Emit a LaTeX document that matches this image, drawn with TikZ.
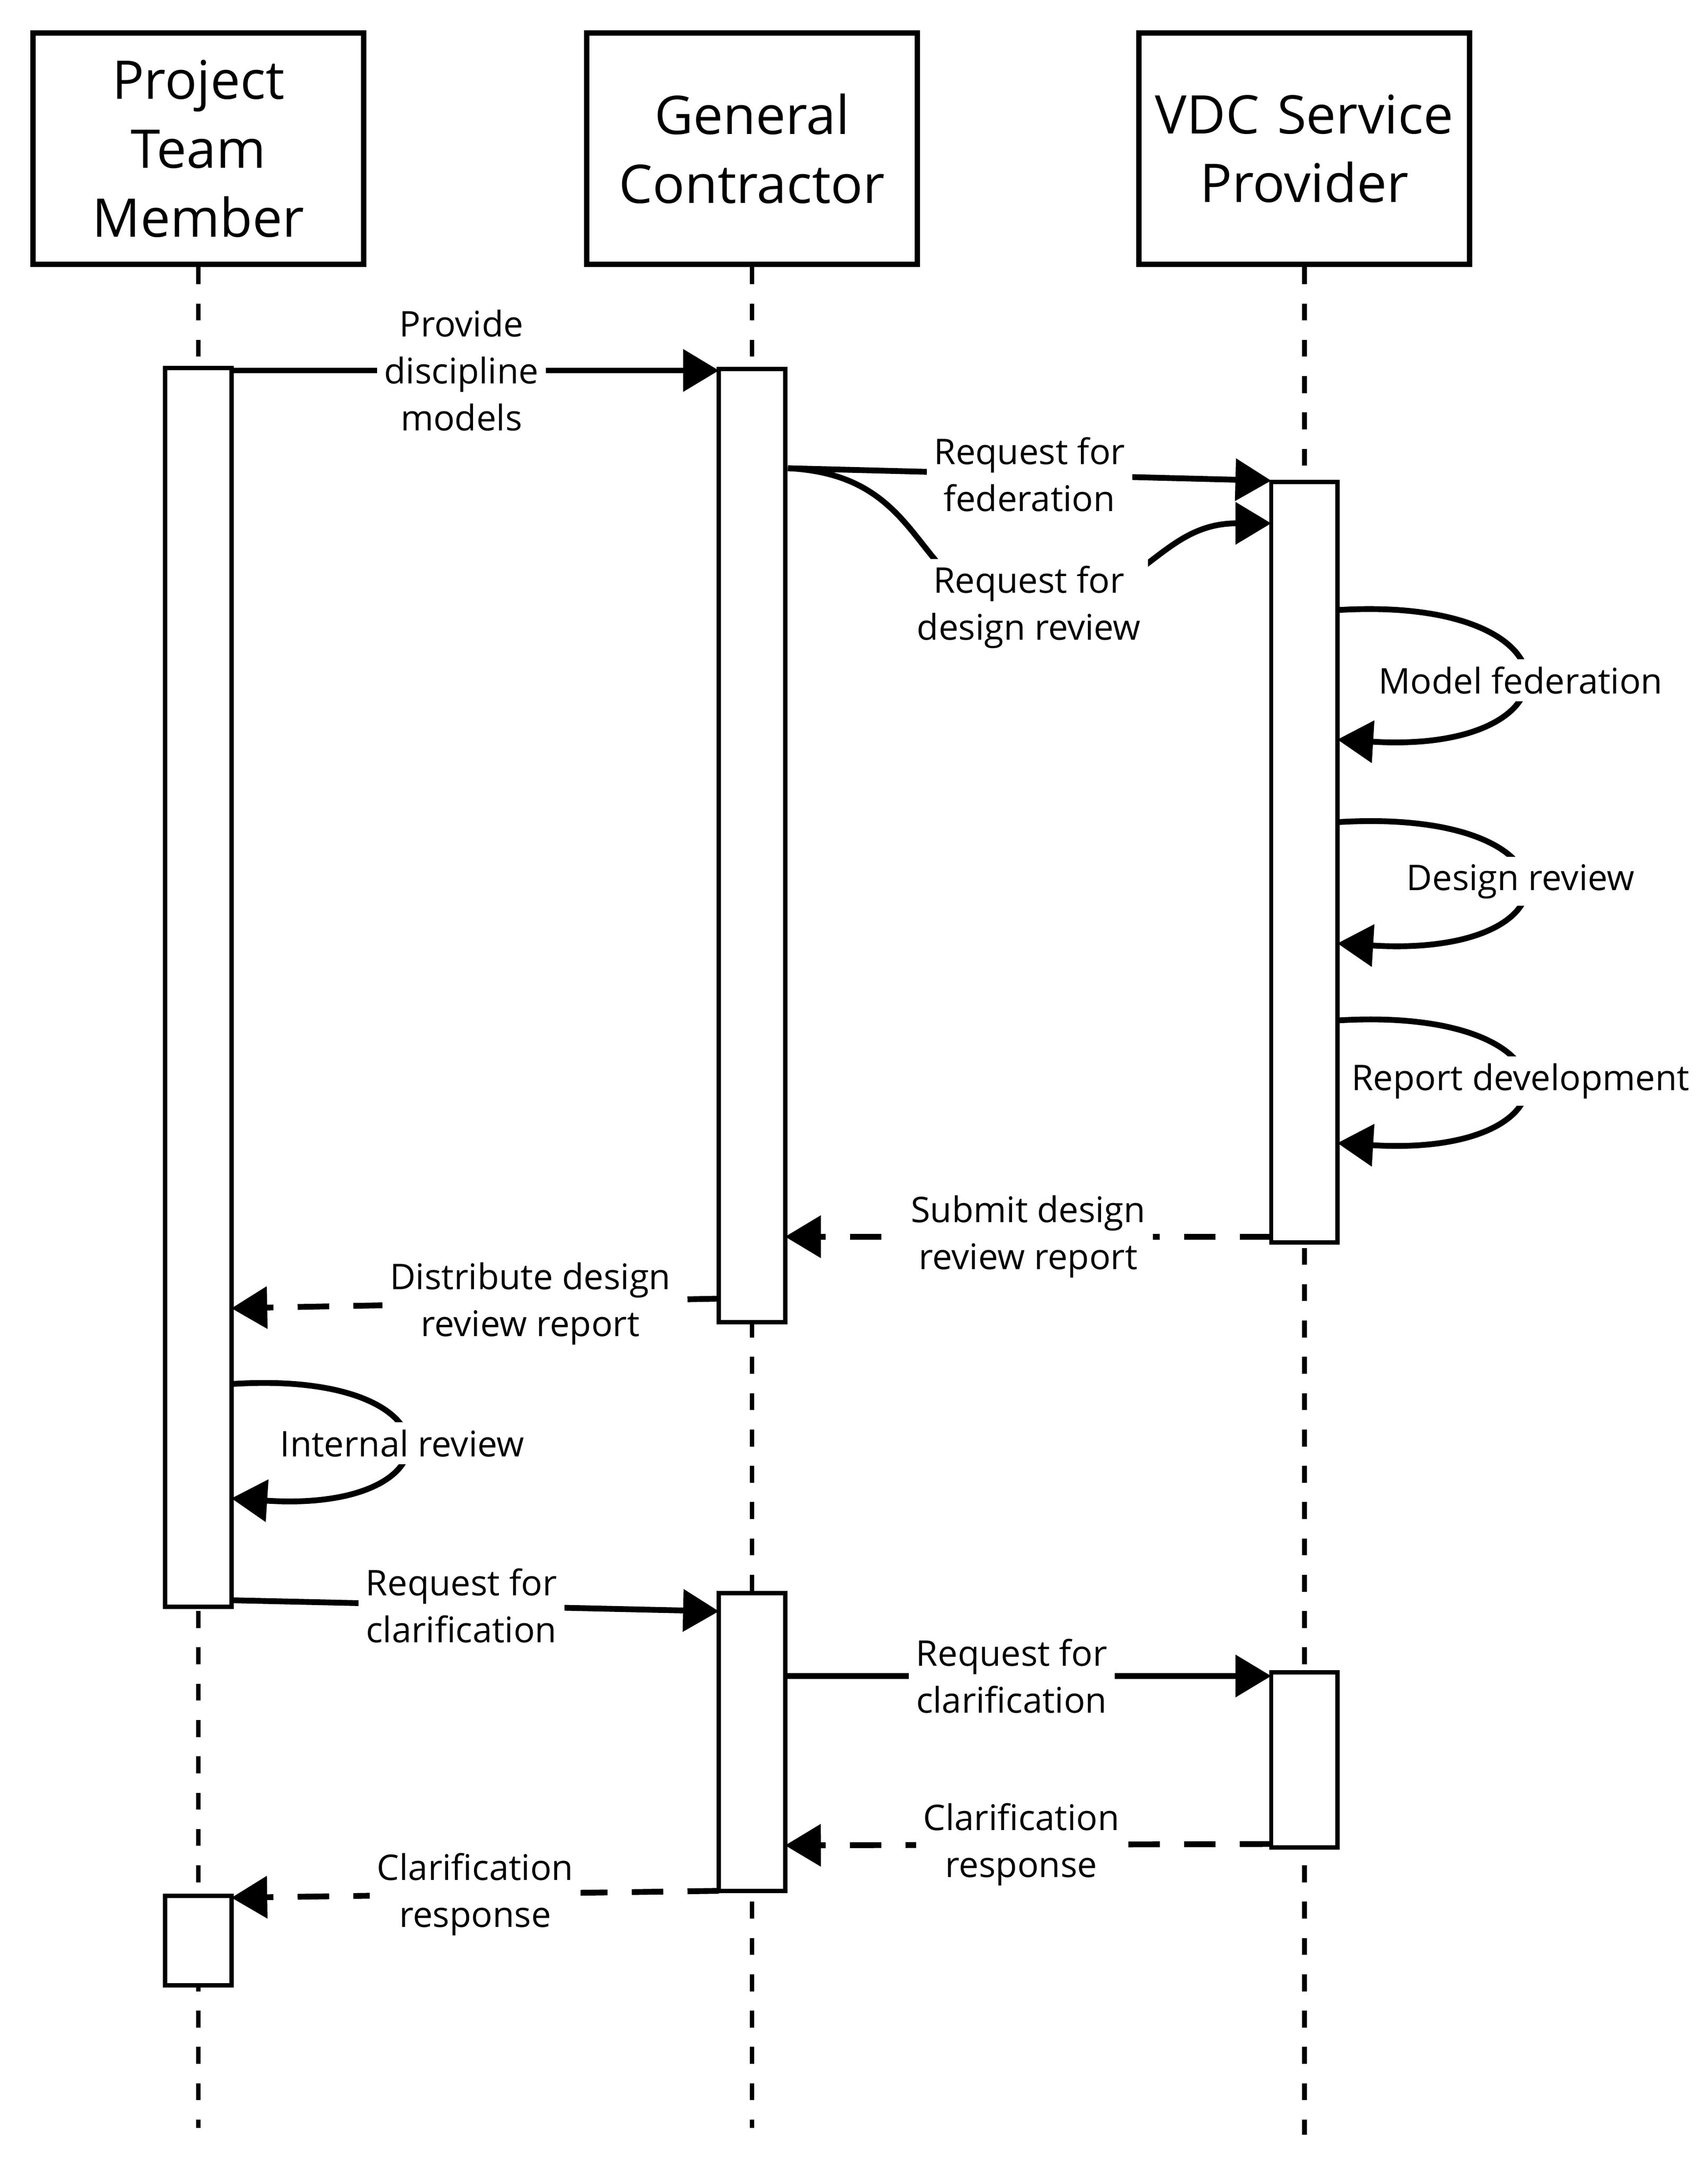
\documentclass[tikz,border=0pt]{standalone}
\usepackage{fontspec}
\setmainfont{Open Sans}
\usetikzlibrary{arrows.meta}
\tikzset{
  actor/.style={draw, line width=1.1pt, minimum width=2.4cm, minimum height=1.68cm, text width=2.3cm, align=center, inner sep=0pt, font=\fontsize{11}{14.2}\selectfont},
  bar/.style={draw, line width=0.9pt, fill=white, minimum width=0.48cm},
  life/.style={line width=1pt, dash pattern=on 3.5pt off 4pt},
  msg/.style={line width=1.2pt, -{Triangle[length=0.26cm, width=0.3cm]}},
  reply/.style={msg, dash pattern=on 6.5pt off 5pt},
  lbl/.style={fill=white, align=center, inner sep=1.5pt, font=\fontsize{7.3}{9.7}\selectfont},
}
\begin{document}
\begin{tikzpicture}[x=0.01cm, y=-0.01cm]
\useasboundingbox (0,0) rectangle (1240,1575);
% actors
\node[actor] (ptm) at (144,108) {Project Team\\Member};
\node[actor] (gc) at (546,108) {General\\Contractor};
\node[actor] (vdc) at (947,108) {VDC Service\\Provider};
\coordinate (ptm-end) at (144,1545);
\coordinate (gc-end) at (546,1545);
\coordinate (vdc-end) at (947,1550);
\draw[life] (ptm.south) -- (ptm-end);
\draw[life] (gc.south) -- (gc-end);
\draw[life] (vdc.south) -- (vdc-end);

% activation bars
\node[bar, minimum height=8.99cm] (ptm1) at (144,717) {};
\node[bar, minimum height=0.65cm] (ptm2) at (144,1409) {};
\node[bar, minimum height=6.92cm] (gc1) at (546,614) {};
\node[bar, minimum height=2.16cm] (gc2) at (546,1265) {};
\node[bar, minimum height=5.52cm] (vdc1) at (947,626) {};
\node[bar, minimum height=1.27cm] (vdc2) at (947,1278) {};

% messages
\coordinate (a1) at (168,269); \coordinate (b1) at (522,269);
\draw[msg] (a1) -- node[lbl, xshift=-0.1cm] {Provide\\discipline\\models} (b1);
\coordinate (a2) at (572,340); \coordinate (b2) at (923,349);
\draw[msg] (a2) -- node[lbl] {Request for\\federation} (b2);
\coordinate (b3) at (923,380); \coordinate (c3) at (747,441);
\draw[msg] (a2) .. controls (680,345) and (660,440) .. (c3) .. controls (830,440) and (840,380) .. (b3);
\node[lbl] at (c3) {Request for\\design review};

% self loops
\coordinate (s1) at (971,443); \coordinate (e1) at (971,537);
\draw[msg] (s1) .. controls (1150,432) and (1150,548) .. (e1);
\node[lbl] at (1104,494) {Model federation};
\coordinate (s2) at (971,597); \coordinate (e2) at (971,685);
\draw[msg] (s2) .. controls (1150,586) and (1150,696) .. (e2);
\node[lbl] at (1104,640) {Design review};
\coordinate (s3) at (971,741); \coordinate (e3) at (971,830);
\draw[msg] (s3) .. controls (1150,730) and (1150,841) .. (e3);
\node[lbl] at (1104,785) {Report development};

\coordinate (a4) at (923,898); \coordinate (b4) at (570,898);
\draw[reply] (a4) -- node[lbl] {Submit design\\review report} (b4);
\coordinate (a5) at (522,943); \coordinate (b5) at (168,950);
\draw[reply] (a5) -- node[lbl, xshift=0.4cm] {Distribute design\\review report} (b5);

\coordinate (s6) at (168,1005); \coordinate (e6) at (168,1088);
\draw[msg] (s6) .. controls (335,994) and (335,1099) .. (e6);
\node[lbl] at (292,1048) {Internal review};

\coordinate (a7) at (168,1162); \coordinate (b7) at (522,1170);
\draw[msg] (a7) -- node[lbl, xshift=-0.1cm] {Request for\\clarification} (b7);
\coordinate (a8) at (570,1217); \coordinate (b8) at (923,1217);
\draw[msg] (a8) -- node[lbl, xshift=-0.12cm] {Request for\\clarification} (b8);
\coordinate (a9) at (923,1339); \coordinate (b9) at (570,1340);
\draw[reply] (a9) -- node[lbl, xshift=-0.05cm] {Clarification\\response} (b9);
\coordinate (a10) at (522,1373); \coordinate (b10) at (168,1378);
\draw[reply] (a10) -- node[lbl] {Clarification\\response} (b10);
\end{tikzpicture}
\end{document}
